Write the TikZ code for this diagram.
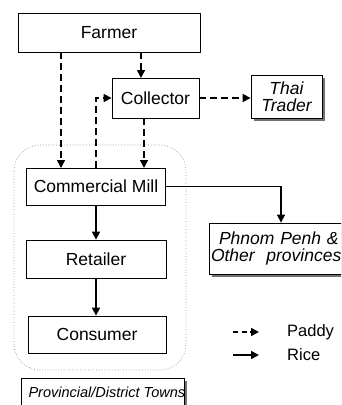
\documentclass[tikz,border=0pt]{standalone}
\usepackage{fontspec}
\setmainfont{Liberation Sans}
\usetikzlibrary{arrows.meta,shadows}
\begin{document}
\begin{tikzpicture}[x=1pt,y=-1pt,
  box/.style={draw,line width=0.8pt,fill=white,inner sep=0pt,align=center,font=\fontsize{17.5}{17.5}\selectfont},
  sbox/.style={box,drop shadow={shadow xshift=2.5pt,shadow yshift=-2.5pt,fill=black!55,opacity=1},font=\fontsize{17.5}{17.5}\selectfont\itshape},
  paddy/.style={line width=1.6pt,dash pattern=on 6.5pt off 4.5pt,-{Triangle[length=8pt,width=8pt]}},
  rice/.style={line width=1.6pt,-{Triangle[length=8pt,width=8pt]}},
  region/.style={draw=black!45,dotted,line width=0.7pt,rounded corners=26pt}]
\clip (0,0) rectangle (341,405);
\fill[white] (0,0) rectangle (341,405);
\draw[region] (14,145) rectangle (186,370);
\node[box,minimum width=182pt,minimum height=39pt] (farmer) at (109,32.5) {Farmer};
\node[box,minimum width=87pt,minimum height=40pt] (coll) at (155.5,98) {Collector};
\node[sbox,minimum width=71pt,minimum height=43pt] (thai) at (286.5,96.5) {Thai\\Trader};
\node[box,minimum width=139pt,minimum height=37pt] (mill) at (96,186.5) {Commercial Mill};
\node[box,minimum width=140pt,minimum height=38pt] (ret) at (96,259) {Retailer};
\node[box,minimum width=138pt,minimum height=37pt] (cons) at (97,334.5) {Consumer};
\node[sbox,minimum width=144pt,minimum height=51pt,text width=144pt,align=left] (phnom) at (281,248.5) {\hspace*{10pt}Phnom Penh \&\\\hspace*{2pt}Other~~provinces};
\node[sbox,minimum width=163pt,minimum height=34pt,anchor=north west] (prov) at (21,378) {};
\node[font=\fontsize{14.5}{14.5}\selectfont\itshape,anchor=west] (provt) at (25,392) {Provincial/District Towns};
% connectors
\coordinate (a1) at (141,52);
\coordinate (a2) at (141,78);
\draw[paddy] (a1) -- (a2);
\coordinate (b1) at (61,52);
\coordinate (b2) at (61,168);
\draw[paddy] (b1) -- (b2);
\coordinate (c1) at (144,118);
\coordinate (c2) at (144,168);
\draw[paddy] (c1) -- (c2);
\draw[paddy] (mill.north) |- (coll.west);
\draw[paddy] (coll.east) -- (coll.east -| thai.west);
\draw[rice] (mill.east) -| (phnom.north);
\draw[rice] (mill.south) -- (mill.south |- ret.north);
\draw[rice] (ret.south) -- (ret.south |- cons.north);
% legend
\coordinate (l1) at (233,332);
\coordinate (l2) at (259,332);
\coordinate (l3) at (233,355);
\coordinate (l4) at (259,355);
\draw[paddy,dash pattern=on 5pt off 3.5pt] (l1) -- (l2);
\draw[rice] (l3) -- (l4);
\node[anchor=west,font=\fontsize{16.5}{16.5}\selectfont,inner sep=0pt] (lp) at (287,332) {Paddy};
\node[anchor=west,font=\fontsize{16.5}{16.5}\selectfont,inner sep=0pt] (lr) at (287,355) {Rice};
\end{tikzpicture}
\end{document}
